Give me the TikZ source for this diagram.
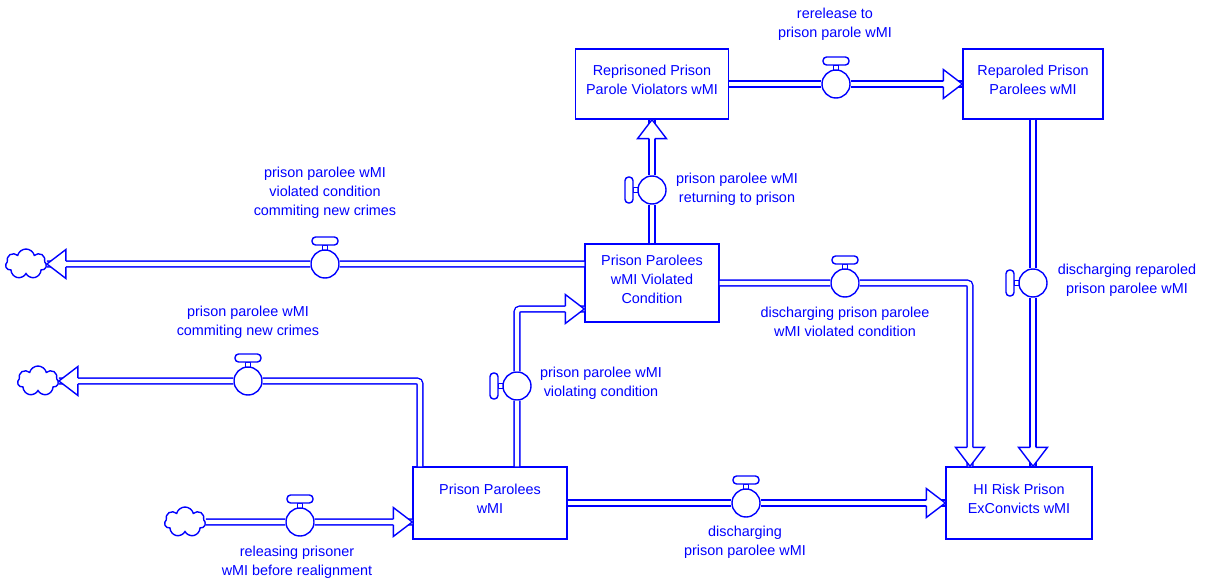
\documentclass[tikz,border=0pt]{standalone}
\usepackage{fontspec}
\setmainfont{Liberation Sans}
\usetikzlibrary{positioning,shapes.symbols}
\definecolor{flowblue}{RGB}{0,0,255}

\begin{document}
\begin{tikzpicture}
        [
            x = 0.5pt, y = -0.5pt,
            every node/.style = {text = flowblue, font = \fontsize{7.2}{9.5}\selectfont, align = center},
            stock/.style = {draw = flowblue, line width = 0.7pt, inner sep = 0pt, text depth = 4pt},
            valve/.style = {circle, draw = flowblue, line width = 0.7pt, fill = white, minimum size = 14pt, inner sep = 0pt},
            sink/.style = {cloud, cloud puffs = 7, aspect = 1.4, draw = flowblue, line width = 0.7pt, minimum width = 20.5pt, minimum height = 15pt, inner sep = 0pt},
            pipe/.style = {draw = flowblue, line width = 0.7pt, double = white, double distance = 2.2pt, rounded corners = 1.5pt},
            rate/.style = {inner sep = 0pt},
            pics/tap/.style = {code = {
                \draw[flowblue, line width = 0.7pt] (-2.5,-13.5) rectangle (2.5,-19);
                \draw[flowblue, line width = 0.7pt, fill = white, rounded corners = 1.8pt] (-13,-19) rectangle (13,-27);
            }},
            pics/head/.style = {code = {
                \filldraw[draw = flowblue, fill = white, line width = 0.7pt] (-19,-2.9) -- (-19,-14.5) -- (0,0) -- (-19,14.5) -- (-19,2.9);
            }}
        ]

        \useasboundingbox (0,0) rectangle (1205,583);

        % stocks
        \node[stock, minimum width = 76.5pt, minimum height = 35pt] (rp) at (652,84) {Reprisoned Prison\\Parole Violators wMI};
        \node[stock, minimum width = 70pt, minimum height = 35pt] (rpd) at (1033,84) {Reparoled Prison\\Parolees wMI};
        \node[stock, minimum width = 67pt, minimum height = 39pt] (vc) at (652,283) {Prison Parolees\\wMI Violated\\Condition};
        \node[stock, minimum width = 77pt, minimum height = 36pt] (pp) at (490,503) {Prison Parolees\\wMI};
        \node[stock, minimum width = 73pt, minimum height = 36pt] (hr) at (1019,503) {HI Risk Prison\\ExConvicts wMI};

        % sources and sinks
        \node[sink] (sk1) at (185,522) {};
        \node[sink] (sk2) at (38,381) {};
        \node[sink] (sk3) at (26,264) {};

        % valves
        \node[valve] (v1) at (300,522) {};
        \node[valve] (v2) at (746,503) {};
        \node[valve] (v3) at (248,381) {};
        \node[valve] (v4) at (517,386) {};
        \node[valve] (v5) at (325,264) {};
        \node[valve] (v6) at (652,190) {};
        \node[valve] (v7) at (836,84) {};
        \node[valve] (v8) at (1033,283) {};
        \node[valve] (v9) at (845,283) {};

        \coordinate (c3) at (420,381);
        \coordinate (c4) at (517,309);
        \coordinate (c9) at (970,283);

        % flows
        \draw[pipe] (sk1) -- (v1) -- (sk1 -| pp.west);
        \draw[pipe] (pp.east) -- (v2) -- (hr.west);
        \draw[pipe] (pp.north -| c3) -- (c3) -- (v3) -- (sk2);
        \draw[pipe] (pp.north -| c4) -- (v4) -- (c4) -- (c4 -| vc.west);
        \draw[pipe] (v5 -| vc.west) -- (v5) -- (sk3);
        \draw[pipe] (vc.north) -- (v6) -- (rp.south);
        \draw[pipe] (rp.east) -- (v7) -- (rpd.west);
        \draw[pipe] (rpd.south) -- (v8) -- (rpd.south |- hr.north);
        \draw[pipe] (vc.east) -- (v9) -- (c9) -- (c9 |- hr.north);

        % taps on the valves
        \foreach \v in {v1, v2, v3, v5, v7, v9}
            \pic at (\v) {tap};
        \foreach \v in {v4, v6, v8}
            \pic[rotate = 90] at (\v) {tap};

        % arrow heads
        \pic at (sk1 -| pp.west) {head};
        \pic at (hr.west) {head};
        \pic[rotate = 180] at (sk2.east) {head};
        \pic at (c4 -| vc.west) {head};
        \pic[rotate = 180] at (sk3.east) {head};
        \pic[rotate = 90] at (rp.south) {head};
        \pic at (rpd.west) {head};
        \pic[rotate = -90] at (rpd.south |- hr.north) {head};
        \pic[rotate = -90] at (c9 |- hr.north) {head};

        % rate names
        \node[rate] (r1) at (297,562) {releasing prisoner\\wMI before realignment};
        \node[rate] (r2) at (745,542) {discharging\\prison parolee wMI};
        \node[rate] (r3) at (248,322) {prison parolee wMI\\commiting new crimes};
        \node[rate] (r4) at (601,383) {prison parolee wMI\\violating condition};
        \node[rate] (r5) at (325,193) {prison parolee wMI\\violated condition\\commiting new crimes};
        \node[rate] (r6) at (737,189) {prison parolee wMI\\returning to prison};
        \node[rate] (r7) at (835,24) {rerelease to\\prison parole wMI};
        \node[rate] (r8) at (1127,280) {discharging reparoled\\prison parolee wMI};
        \node[rate] (r9) at (845,322) {discharging prison parolee\\wMI violated condition};
\end{tikzpicture}
\end{document}
